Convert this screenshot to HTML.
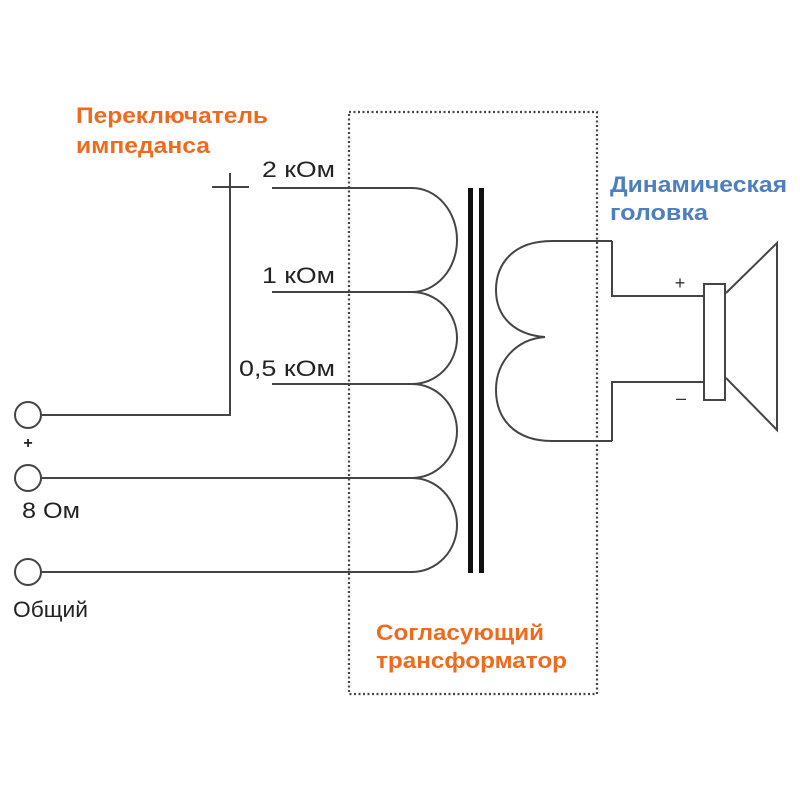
<!DOCTYPE html>
<html><head><meta charset="utf-8"><style>
html,body{margin:0;padding:0;background:#fff;}
svg{display:block;}
text{font-family:"Liberation Sans",Arial,sans-serif;}
</style></head><body>
<svg width="800" height="800" viewBox="0 0 800 800" xmlns="http://www.w3.org/2000/svg">
<rect width="800" height="800" fill="#fff"/>
<!-- dotted box -->
<rect x="349" y="112" width="248" height="582" fill="none" stroke="#444" stroke-width="2.2" stroke-dasharray="2,2.5"/>

<g fill="none" stroke="#444" stroke-width="2">
  <!-- primary taps -->
  <line x1="272" y1="188" x2="412" y2="188"/>
  <line x1="272" y1="292" x2="412" y2="292"/>
  <line x1="272" y1="384" x2="412" y2="384"/>
  <!-- primary bumps -->
  <path d="M412,188 A45,52 0 0 1 412,292"/>
  <path d="M412,292 A45,46 0 0 1 412,384"/>
  <path d="M412,384 A45,47 0 0 1 412,478"/>
  <path d="M412,478 A45,47 0 0 1 412,572"/>
  <!-- terminals -->
  <circle cx="28" cy="415" r="13"/>
  <circle cx="28" cy="478" r="13"/>
  <circle cx="28" cy="572" r="13"/>
  <line x1="41" y1="415" x2="231" y2="415"/>
  <line x1="230" y1="415" x2="230" y2="173"/>
  <line x1="212" y1="187" x2="249" y2="187"/>
  <line x1="41" y1="478" x2="412" y2="478"/>
  <line x1="41" y1="572" x2="412" y2="572"/>
  <!-- secondary -->
  <path d="M612,241 L552,241 C512,241 496,265 496,290 C496,318 516,335 545,337"/>
  <path d="M545,337 C516,339 496,362 496,390 C496,418 514,441 552,441 L612,441"/>
  <polyline points="612,241 612,296 704,296"/>
  <polyline points="612,441 612,382 704,382"/>
  <!-- speaker -->
  <rect x="704" y="284" width="21" height="116"/>
  <polyline points="726,293 777,243 777,430 726,378"/>
</g>
<!-- core -->
<rect x="468" y="188" width="5" height="385" fill="#111"/>
<rect x="479" y="188" width="5" height="385" fill="#111"/>

<!-- labels -->
<g font-weight="bold" fill="#f06a1e" font-size="22">
  <text x="76" y="123" textLength="192" lengthAdjust="spacingAndGlyphs">Переключатель</text>
  <text x="76" y="153" textLength="134" lengthAdjust="spacingAndGlyphs">импеданса</text>
  <text x="376" y="640" textLength="168" lengthAdjust="spacingAndGlyphs">Согласующий</text>
  <text x="376" y="668" textLength="191" lengthAdjust="spacingAndGlyphs">трансформатор</text>
</g>
<g font-weight="bold" fill="#4d7fbf" font-size="22">
  <text x="610" y="192" textLength="177" lengthAdjust="spacingAndGlyphs">Динамическая</text>
  <text x="610" y="220" textLength="98" lengthAdjust="spacingAndGlyphs">головка</text>
</g>
<g fill="#222" font-size="22">
  <text x="262" y="177" textLength="73" lengthAdjust="spacingAndGlyphs">2 кОм</text>
  <text x="262" y="283" textLength="73" lengthAdjust="spacingAndGlyphs">1 кОм</text>
  <text x="239" y="376" textLength="96" lengthAdjust="spacingAndGlyphs">0,5 кОм</text>
  <text x="22" y="518" textLength="58" lengthAdjust="spacingAndGlyphs">8 Ом</text>
  <text x="13" y="617" textLength="75" lengthAdjust="spacingAndGlyphs">Общий</text>
</g>
<g fill="#222" font-weight="bold" font-size="16" text-anchor="middle">
  <text x="28" y="448">+</text>
</g>
<g fill="#333" font-size="18" text-anchor="middle">
  <text x="680" y="289">+</text>
  <text x="681" y="404">–</text>
</g>
</svg>
</body></html>
